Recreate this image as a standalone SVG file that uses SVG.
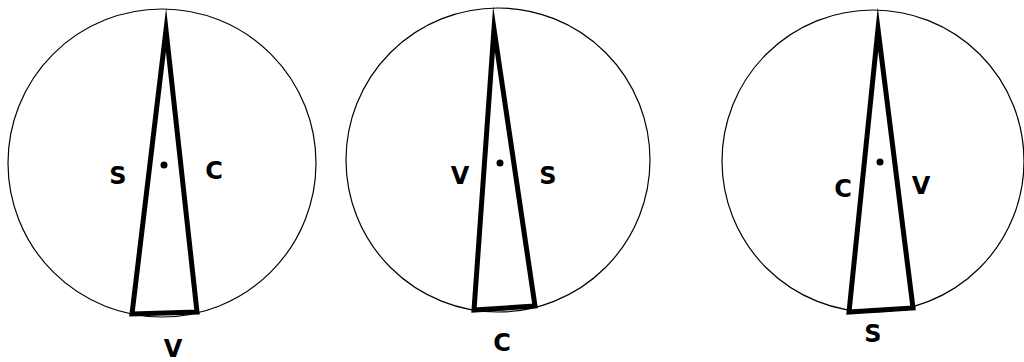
<svg xmlns="http://www.w3.org/2000/svg" width="1024" height="362" viewBox="0 0 1024 362">
<style>
.c{fill:none;stroke:#000;stroke-width:1.2}
.t{fill:none;stroke:#000;stroke-width:5;stroke-linejoin:miter;stroke-miterlimit:30}
.d{fill:#000}
.l{font-family:"DejaVu Sans","Liberation Sans",sans-serif;font-weight:bold;font-size:24px;fill:#000;text-anchor:middle}
</style>
<rect width="1024" height="362" fill="#fff"/>
<g id="fig1">
<circle class="c" cx="162" cy="163" r="154"/>
<polygon class="t" points="166,30 197,312 132,314"/>
<circle class="d" cx="164" cy="165" r="3.5"/>
<text class="l" x="118" y="184">S</text>
<text class="l" x="214" y="179">C</text>
<text class="l" x="173" y="357">V</text>
</g>
<g id="fig2">
<circle class="c" cx="498" cy="160" r="152"/>
<polygon class="t" points="494,29 535,306 474,310"/>
<circle class="d" cx="500" cy="163" r="3.5"/>
<text class="l" x="460" y="184">V</text>
<text class="l" x="548" y="184">S</text>
<text class="l" x="502" y="351">C</text>
</g>
<g id="fig3">
<circle class="c" cx="873" cy="161" r="151"/>
<polygon class="t" points="878,29 913,308 849,312"/>
<circle class="d" cx="880" cy="162" r="3.5"/>
<text class="l" x="843" y="197">C</text>
<text class="l" x="921" y="194">V</text>
<text class="l" x="873" y="342">S</text>
</g>
</svg>
